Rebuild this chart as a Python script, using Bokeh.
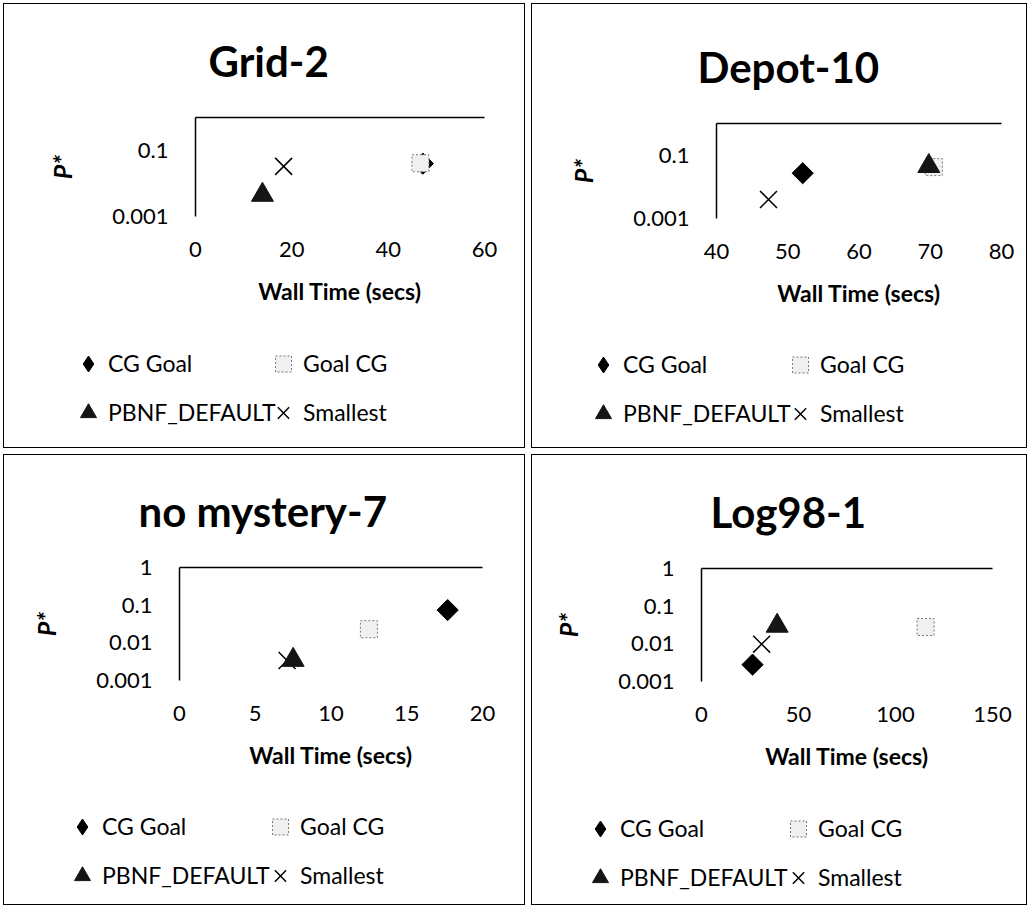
import math
from bokeh.plotting import figure
from bokeh.models import (LinearAxis, FixedTicker, CustomJSTickFormatter, Legend,
                          LegendItem, Title, Range1d, ColumnDataSource)
from bokeh.layouts import column, row
from bokeh.embed import file_html
from bokeh.resources import INLINE

# ---------------- data ----------------
titles = ["Grid-2", "Depot-10", "no mystery-7", "Log98-1"]
x_ranges = [(0, 60), (40, 80), (0, 20), (0, 150)]
x_ticks = [[0, 20, 40, 60], [40, 50, 60, 70, 80], [0, 5, 10, 15, 20], [0, 50, 100, 150]]
y_ticks = [[0.001, 0.1], [0.001, 0.1], [0.001, 0.01, 0.1, 1], [0.001, 0.01, 0.1, 1]]

cg_goal_x = [47.2, 52.1, 17.7, 26.3]
cg_goal_y = [0.040, 0.027, 0.074, 0.0028]
goal_cg_x = [46.7, 70.5, 12.5, 115.5]
goal_cg_y = [0.041, 0.042, 0.023, 0.028]
pbnf_x = [13.9, 69.8, 7.5, 39.0]
pbnf_y = [0.0045, 0.045, 0.0035, 0.030]
smallest_x = [18.3, 47.3, 7.1, 31.0]
smallest_y = [0.033, 0.004, 0.0034, 0.0098]

x_title = "Wall Time (secs)"
y_title = "P*"
series_names = ["CG Goal", "Goal CG", "PBNF_DEFAULT", "Smallest"]

# ---------------- layout / style ----------------
W = [528, 502, 528, 502]
HM = [320, 320, 333, 334]       # main chart heights
HL = [131, 131, 124, 123]       # legend strip heights
FL = [195, 188, 179, 173]
FW = [289, 285, 303, 291]
FT = [117, 123, 115, 117]
FH = [99, 95, 114, 113]
TITLE_OFF = [13, -19, -41, 9]
GW = 40
LEG1_LOC = [(68, 14.5), (55, 13.5), (62, 8.5), (52, 6.5)]
LEG2_LOC = [(263, 14.5), (252, 13.5), (260, 8.5), (250, 6.5)]

FONT = "Lato"


def make_legend(items, loc):
    return Legend(items=items, orientation="vertical", location=loc,
                  glyph_width=GW, glyph_height=49, label_standoff=0, spacing=0,
                  padding=0, margin=0, border_line_color=None, background_fill_alpha=0,
                  label_text_font=FONT, label_text_font_size="23px",
                  label_text_color="black")


def make_panel(i):
    p = figure(width=W[i], height=HM[i],
               x_range=Range1d(*x_ranges[i]), y_range=Range1d(0.001, 1),
               y_axis_type="log", output_backend="svg", toolbar_location=None,
               min_border_left=FL[i], min_border_right=W[i] - FL[i] - FW[i],
               min_border_top=FT[i], min_border_bottom=HM[i] - FT[i] - FH[i],
               background_fill_color=None, border_fill_color=None,
               outline_line_color=None)
    p.xgrid.visible = False
    p.ygrid.visible = False

    xa = p.xaxis[0]
    xa.ticker = FixedTicker(ticks=x_ticks[i])
    xa.axis_line_color = None
    xa.major_tick_line_color = None
    xa.minor_tick_line_color = None
    xa.major_label_standoff = 19
    xa.major_label_text_font = FONT
    xa.major_label_text_font_size = "22px"
    xa.major_label_text_color = "black"
    xa.axis_label = x_title
    xa.axis_label_text_font = FONT
    xa.axis_label_text_font_size = "23px"
    xa.axis_label_text_font_style = "bold"
    xa.axis_label_text_color = "black"
    xa.axis_label_standoff = 17

    ya = p.yaxis[0]
    ya.ticker = FixedTicker(ticks=y_ticks[i])
    ya.formatter = CustomJSTickFormatter(code="return tick.toString();")
    ya.axis_line_width = 1.5
    ya.axis_line_color = "black"
    ya.major_tick_line_color = None
    ya.minor_tick_line_color = None
    ya.major_label_standoff = 21
    ya.major_label_text_font = FONT
    ya.major_label_text_font_size = "22px"
    ya.major_label_text_color = "black"
    ya.axis_label = y_title
    ya.axis_label_text_font = FONT
    ya.axis_label_text_font_size = "25px"
    ya.axis_label_text_font_style = "bold italic"
    ya.axis_label_text_color = "black"
    ya.axis_label_standoff = 32

    top = LinearAxis(ticker=FixedTicker(ticks=[]), axis_line_width=1.5,
                     axis_line_color="black",
                     major_tick_line_color=None, minor_tick_line_color=None,
                     major_tick_out=0, major_tick_in=0, minor_tick_out=0, minor_tick_in=0,
                     major_label_standoff=0, axis_label_standoff=0)
    p.add_layout(top, "above")
    p.add_layout(Title(text=titles[i], align="left", offset=TITLE_OFF[i],
                       text_font=FONT, text_font_size="42px", text_font_style="bold",
                       text_color="black", standoff=64), "above")

    s_cg = ColumnDataSource(dict(x=[cg_goal_x[i]], y=[cg_goal_y[i]]))
    s_gc = ColumnDataSource(dict(x=[goal_cg_x[i]], y=[goal_cg_y[i]]))
    s_pb = ColumnDataSource(dict(x=[pbnf_x[i]], y=[pbnf_y[i]]))
    s_sm = ColumnDataSource(dict(x=[smallest_x[i]], y=[smallest_y[i]]))

    p.scatter("x", "y", source=s_cg, marker="square", angle=math.pi / 4, size=15,
              fill_color="black", line_color="black")
    p.scatter("x", "y", source=s_gc, marker="square", size=17,
              fill_color="#f0f0f0", line_color="#777777", line_dash="2 2", line_width=1)
    p.scatter("x", "y", source=s_sm, marker="x", size=24,
              line_color="black", line_width=1.5)
    p.scatter("x", "y", source=s_pb, marker="triangle", size=22,
              fill_color="#151515", line_color="#151515")

    # legend strip: a small figure whose glyphs only appear as legend keys
    lg = figure(width=W[i], height=HL[i], x_range=Range1d(0, 1), y_range=Range1d(0, 1),
                x_axis_location=None, y_axis_location=None,
                output_backend="svg", toolbar_location=None,
                min_border_left=0, min_border_right=0, min_border_top=0, min_border_bottom=0,
                background_fill_color=None, border_fill_color=None, outline_line_color=None)
    lg.xgrid.visible = False
    lg.ygrid.visible = False
    k_cg = lg.scatter("x", "y", source=s_cg, marker="diamond", size=0,
                      fill_color="black", line_color="black")
    k_gc = lg.scatter("x", "y", source=s_gc, marker="square", size=0,
                      fill_color="#f0f0f0", line_color="#777777", line_dash="2 2", line_width=1)
    k_sm = lg.scatter("x", "y", source=s_sm, marker="x", size=0,
                      line_color="black", line_width=1.5)
    k_pb = lg.scatter("x", "y", source=s_pb, marker="triangle", size=0,
                      fill_color="#151515", line_color="#151515")
    lg.add_layout(make_legend([LegendItem(label=series_names[0], renderers=[k_cg]),
                               LegendItem(label=series_names[2], renderers=[k_pb])],
                              LEG1_LOC[i]), "center")
    lg.add_layout(make_legend([LegendItem(label=series_names[1], renderers=[k_gc]),
                               LegendItem(label=series_names[3], renderers=[k_sm])],
                              LEG2_LOC[i]), "center")

    return column(column(p), column(lg), spacing=0,
                  styles={"outline": "1.5px solid black", "outline-offset": "-4px"})


panels = [make_panel(i) for i in range(4)]
layout = column(row(panels[0], panels[1], spacing=0),
                row(panels[2], panels[3], spacing=0), spacing=0)

open("out.html", "w").write(file_html(layout, INLINE))
